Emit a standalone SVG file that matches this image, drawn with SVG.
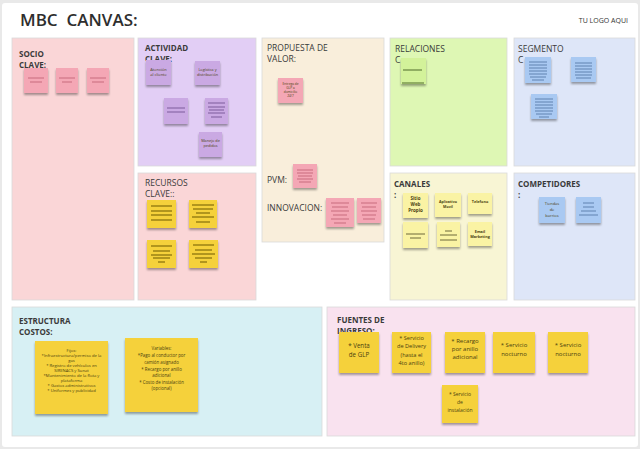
<svg xmlns="http://www.w3.org/2000/svg" width="640" height="449" viewBox="0 0 640 449">
<defs>
<filter id="sh" x="-20%" y="-20%" width="140%" height="150%">
<feDropShadow dx="0" dy="2" stdDeviation="1.2" flood-color="#000" flood-opacity="0.35"/>
</filter>
<style>
.box{stroke:#d9d9d9;stroke-width:0.8}
.lbl{font-family:"Open Sans","Liberation Sans",sans-serif;font-size:8px;font-weight:700;fill:#3a3a3a}
.lblr{font-family:"Open Sans","Liberation Sans",sans-serif;font-size:8.5px;font-weight:400;fill:#3a3a3a}
.nt{font-family:"Open Sans","Liberation Sans",sans-serif;fill:#4a3f10;text-anchor:middle}
.n{filter:url(#sh)}
.pk{fill:#f4a7b5}.pkl{stroke:#c76c7e;stroke-width:1.2;fill:none}
.lv{fill:#caa9e3}.lvl{stroke:#7d5c9c;stroke-width:1.1;fill:none}
.gr{fill:#d3f29a}.grl{stroke:#4f6b2a;stroke-width:1;fill:none}
.bl{fill:#a9c9f2}.bll{stroke:#587aa8;stroke-width:0.9;fill:none}
.ye{fill:#f5d13a}.yel{stroke:#6e5a00;stroke-width:1.2;fill:none}
.py{fill:#faf3a4}.pyl{stroke:#5e5a30;stroke-width:0.9;fill:none}
</style>
</defs>
<rect x="0" y="0" width="640" height="449" fill="#e9e9e9"/>
<rect x="2" y="3" width="636" height="444" rx="3" fill="#ffffff"/>
<g id="header">
<text x="20" y="26" font-family="'Open Sans','Liberation Sans',sans-serif" font-size="17" font-weight="600" fill="#2e2e2e" xml:space="preserve">MBC  CANVAS:</text>
<text x="628" y="23" text-anchor="end" font-family="'Open Sans','Liberation Sans',sans-serif" font-size="7" fill="#333">TU LOGO AQUI</text>
</g>
<g id="boxes">
<rect class="box" x="12" y="38" width="122" height="262" fill="#fad6d7"/>
<rect class="box" x="138" y="38" width="118" height="128" fill="#e2cef5"/>
<rect class="box" x="138" y="173" width="118" height="127" fill="#fad6d7"/>
<rect class="box" x="262" y="38" width="122" height="204" fill="#f9eedb"/>
<rect class="box" x="390" y="38" width="117" height="128" fill="#def7b4"/>
<rect class="box" x="390" y="173" width="117" height="127" fill="#f8f5d4"/>
<rect class="box" x="514" y="38" width="121" height="128" fill="#dee6f8"/>
<rect class="box" x="514" y="173" width="121" height="127" fill="#dee6f8"/>
<rect class="box" x="12" y="307" width="310" height="129" fill="#d7f0f4"/>
<rect class="box" x="327" y="307" width="308" height="129" fill="#f9e2ef"/>
</g>
<g id="labels">
<text class="lbl" x="19" y="57">SOCIO</text>
<text class="lbl" x="19" y="68">CLAVE:</text>
<text class="lbl" x="145" y="51">ACTIVIDAD</text>
<text class="lbl" x="145" y="62">CLAVE:</text>
<text class="lblr" x="267" y="51">PROPUESTA DE</text>
<text class="lblr" x="267" y="62">VALOR:</text>
<text class="lblr" x="267" y="183">PVM:</text>
<text class="lblr" x="267" y="211">INNOVACION:</text>
<text class="lblr" x="395" y="52">RELACIONES</text>
<text class="lblr" x="395" y="63">C</text>
<text class="lblr" x="518" y="52">SEGMENTO</text>
<text class="lblr" x="518" y="63">C</text>
<text class="lblr" x="145" y="186">RECURSOS</text>
<text class="lblr" x="145" y="197">CLAVE::</text>
<text class="lbl" x="394" y="187" font-size="9">CANALES</text>
<text class="lbl" x="394" y="198">:</text>
<text class="lbl" x="518" y="187">COMPETIDORES</text>
<text class="lbl" x="518" y="198">:</text>
<text class="lbl" x="19" y="324">ESTRUCTURA</text>
<text class="lbl" x="19" y="335">COSTOS:</text>
<text class="lbl" x="337" y="323">FUENTES DE</text>
<text class="lbl" x="337" y="334">INGRESO:</text>
</g>
<g id="socio-notes">
<g id="sn1"><rect class="n pk" x="24" y="68" width="24" height="25"/><path class="pkl" d="M28 78H44M30 82H42"/></g>
<g id="sn2"><rect class="n pk" x="56" y="68" width="22" height="25"/><path class="pkl" d="M59 78H75M62 82H72"/></g>
<g id="sn3"><rect class="n pk" x="87" y="68" width="22" height="25"/><path class="pkl" d="M90 78H106M92 82H104"/></g>
</g>
<g id="actividad-notes">
<g id="an1"><rect class="n lv" x="146" y="60" width="25" height="25"/><text class="nt" font-size="4" fill="#4a3a5a"><tspan x="158.5" y="71">Atención</tspan><tspan x="158.5" y="76">al cliente</tspan></text></g>
<g id="an2"><rect class="n lv" x="195" y="61" width="25" height="24"/><text class="nt" font-size="3.8"><tspan x="207.5" y="71">Logística y</tspan><tspan x="207.5" y="76">distribución</tspan></text></g>
<g id="an3"><rect class="n lv" x="164" y="98" width="24" height="26"/><path class="lvl" d="M167 108H185M167 112H185"/></g>
<g id="an4"><rect class="n lv" x="205" y="98" width="23" height="26"/><path class="lvl" d="M208 103H225M208 107H225M209 110H224M208 113H225M211 117H222"/></g>
<g id="an5"><rect class="n lv" x="199" y="132" width="23" height="25"/><text class="nt" font-size="3.8"><tspan x="210.5" y="142">Manejo de</tspan><tspan x="210.5" y="147">pedidos</tspan></text></g>
</g>
<g id="propuesta-notes">
<g id="pn1"><rect class="n pk" x="278" y="78" width="25" height="25"/><text class="nt" font-size="3.2" fill="#6a2a3a"><tspan x="290.5" y="85">Entrega de</tspan><tspan x="290.5" y="89">GLP a</tspan><tspan x="290.5" y="93">domicilio</tspan><tspan x="290.5" y="97">24/7</tspan></text></g>
<g id="pvm1"><rect class="n pk" x="293" y="164" width="24" height="24"/><path class="pkl" stroke-width="0.9" d="M297 170H313M297 173H313M298 176H312M297 179H313M299 182H311"/></g>
<g id="in1"><rect class="n pk" x="326" y="198" width="28" height="29"/><path class="pkl" stroke-width="0.9" d="M331 203H349M332 207H348M331 211H349M333 215H347M331 219H349M334 223H346"/></g>
<g id="in2"><rect class="n pk" x="357" y="198" width="24" height="25"/><path class="pkl" stroke-width="0.9" d="M361 203H377M362 207H376M361 211H377M362 215H376M363 219H375"/></g>
</g>
<g id="relaciones-notes">
<g id="rn1"><rect class="n gr" x="401" y="58" width="25" height="26"/><path class="grl" d="M403 70H422M402 83H424"/></g>
</g>
<g id="segmento-notes">
<g id="sg1"><rect class="n bl" x="525" y="57" width="26" height="26"/><path class="bll" d="M529 62H547M529 65H547M529 68H547M529 71H547M529 74H547M530 77H546M532 80H544"/></g>
<g id="sg2"><rect class="n bl" x="571" y="57" width="25" height="25"/><path class="bll" d="M575 63H592M575 66H592M575 69H592M575 72H592M575 75H592M576 78H591"/></g>
<g id="sg3"><rect class="n bl" x="531" y="94" width="26" height="25"/><path class="bll" d="M535 99H553M535 102H553M535 105H553M535 108H553M535 111H553M536 114H552M539 117H549"/></g>
</g>
<g id="recursos-notes">
<g id="rc1"><rect class="n ye" x="147" y="200" width="29" height="28"/><path class="yel" d="M151 206H172M151 211H172M151 215H172M151 220H172"/></g>
<g id="rc2"><rect class="n ye" x="189" y="200" width="28" height="28"/><path class="yel" d="M192 205H214M193 209H213M196 213H210M192 217H214M196 222H210"/></g>
<g id="rc3"><rect class="n ye" x="147" y="240" width="29" height="28"/><path class="yel" d="M151 246H172M153 251H170M151 255H172M153 258H170M158 262H165"/></g>
<g id="rc4"><rect class="n ye" x="189" y="240" width="29" height="28"/><path class="yel" d="M193 245H214M195 250H212M192 254H215M195 258H212M200 262H207"/></g>
</g>
<g id="canales-notes">
<g id="cn1"><rect class="n py" x="403" y="193" width="25" height="25"/><text class="nt" font-size="4.5" font-weight="700" fill="#3a3410"><tspan x="415.5" y="200">Sitio</tspan><tspan x="415.5" y="206">Web</tspan><tspan x="415.5" y="212">Propio</tspan></text></g>
<g id="cn2"><rect class="n py" x="435" y="193" width="26" height="24"/><text class="nt" font-size="3.6" font-weight="700" fill="#3a3410"><tspan x="448" y="203">Aplicativo</tspan><tspan x="448" y="207.5">Movil</tspan></text></g>
<g id="cn3"><rect class="n py" x="468" y="193" width="24" height="21"/><text class="nt" font-size="3.8" font-weight="700" fill="#3a3410" x="480" y="203">Telefono</text></g>
<g id="cn4"><rect class="n py" x="403" y="222" width="25" height="26"/><path class="pyl" d="M406 234H425M410 238H421"/></g>
<g id="cn5"><rect class="n py" x="437" y="222" width="23" height="25"/><path class="pyl" d="M445 231H452M440 235H457M440 240H457"/></g>
<g id="cn6"><rect class="n py" x="468" y="222" width="24" height="24"/><text class="nt" font-size="3.8" font-weight="700" fill="#3a3410"><tspan x="480" y="233">Email</tspan><tspan x="480" y="237.5">Marketing</tspan></text></g>
</g>
<g id="competidores-notes">
<g id="cp1"><rect class="n bl" x="539" y="197" width="26" height="26"/><text class="nt" font-size="4" fill="#2a3a5a"><tspan x="552" y="205">Tiendas</tspan><tspan x="552" y="211">de</tspan><tspan x="552" y="217">barrios</tspan></text></g>
<g id="cp2"><rect class="n bl" x="576" y="197" width="25" height="26"/><path class="bll" stroke-width="1.1" d="M583 203H594M583 207H594M581 211H596M579 215H598"/></g>
</g>
<g id="costos-notes">
<g id="ec1"><rect class="n ye" x="35" y="341" width="73" height="73"/><text class="nt" font-size="4.2"><tspan x="71.5" y="352">Fijos:</tspan><tspan x="71.5" y="357">*Infraestructura/permiso de la</tspan><tspan x="71.5" y="362">gas</tspan><tspan x="71.5" y="367">* Registro de vehículos en</tspan><tspan x="71.5" y="372">SIRENACS y Sunat</tspan><tspan x="71.5" y="377">*Mantenimiento de la flota y</tspan><tspan x="71.5" y="382">plataforma</tspan><tspan x="71.5" y="387">* Gastos administrativos</tspan><tspan x="71.5" y="392">* Uniformes y publicidad</tspan></text></g>
<g id="ec2"><rect class="n ye" x="125" y="338" width="73" height="74"/><text class="nt" font-size="4.4"><tspan x="161.5" y="350">Variables:</tspan><tspan x="161.5" y="357">*Pago al conductor por</tspan><tspan x="161.5" y="364">camión asignado</tspan><tspan x="161.5" y="371">* Recargo por anillo</tspan><tspan x="161.5" y="377">adicional</tspan><tspan x="161.5" y="384">* Costo de instalación</tspan><tspan x="161.5" y="390">(opcional)</tspan></text></g>
</g>
<g id="ingresos-notes">
<g id="fi1"><rect class="n ye" x="339" y="332" width="40" height="41"/><text class="nt" font-size="6.2"><tspan x="359" y="348">* Venta</tspan><tspan x="359" y="357">de GLP</tspan></text></g>
<g id="fi2"><rect class="n ye" x="392" y="332" width="39" height="41"/><text class="nt" font-size="5.6"><tspan x="411.5" y="340">* Servicio</tspan><tspan x="411.5" y="348">de Delivery</tspan><tspan x="411.5" y="357">(hasta el</tspan><tspan x="411.5" y="365">4to anillo)</tspan></text></g>
<g id="fi3"><rect class="n ye" x="445" y="332" width="40" height="41"/><text class="nt" font-size="6"><tspan x="465" y="343">* Recargo</tspan><tspan x="465" y="351">por anillo</tspan><tspan x="465" y="359">adicional</tspan></text></g>
<g id="fi4"><rect class="n ye" x="493" y="332" width="42" height="41"/><text class="nt" font-size="6"><tspan x="514" y="347">* Servicio</tspan><tspan x="514" y="356">nocturno</tspan></text></g>
<g id="fi5"><rect class="n ye" x="548" y="332" width="40" height="41"/><text class="nt" font-size="6"><tspan x="568" y="347">* Servicio</tspan><tspan x="568" y="356">nocturno</tspan></text></g>
<g id="fi6"><rect class="n ye" x="442" y="385" width="36" height="38"/><text class="nt" font-size="5"><tspan x="460" y="396">* Servicio</tspan><tspan x="460" y="404">de</tspan><tspan x="460" y="412">instalación</tspan></text></g>
</g>
<g id="connectors"/>
</svg>
